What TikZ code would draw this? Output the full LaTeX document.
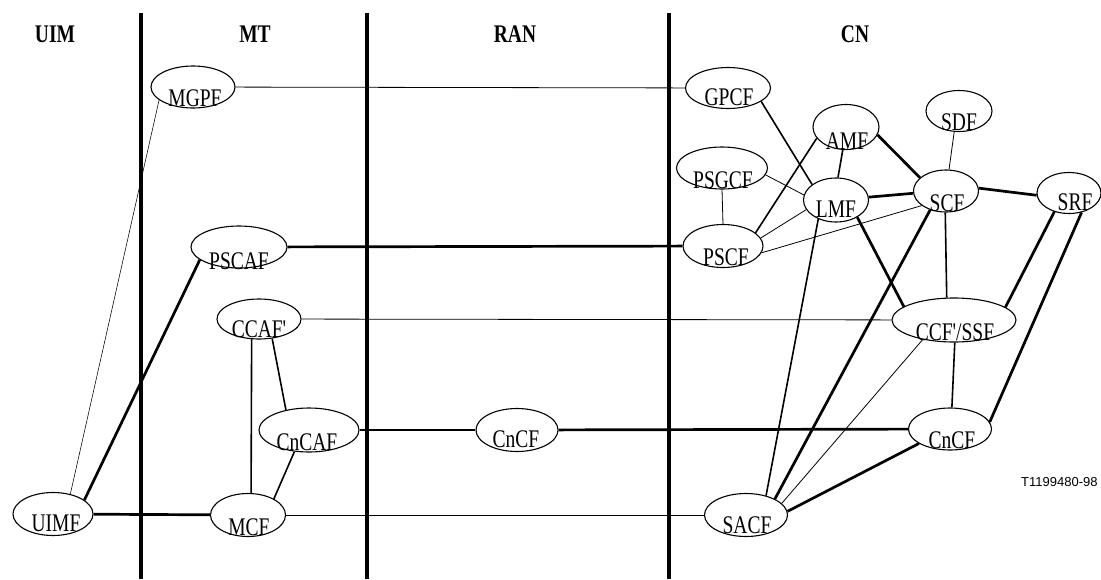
\documentclass[tikz,border=0pt]{standalone}
\usepackage{fontspec}
\setmainfont{Liberation Serif}
% plain family without TeX ligatures, so ' stays a straight apostrophe
\newfontfamily\labelfont{Liberation Serif}
\newfontfamily\refsans{Liberation Sans}
\usetikzlibrary{shapes.geometric}

\newcommand{\fnlabel}[1]{\scalebox{1}[1.3]{\labelfont\fontsize{19.5}{20}\selectfont #1}}
\newcommand{\domlabel}[1]{\scalebox{1}[1.3]{\labelfont\fontsize{19.5}{20}\selectfont\bfseries #1}}

\tikzset{
  fn/.style={ellipse, draw, line width=1.1pt, inner sep=0pt},
  fntext/.style={inner sep=0pt, anchor=center},
  divider/.style={line width=4pt},
  thinlink/.style={line width=0.8pt},
  medlink/.style={line width=1.6pt},
  thicklink/.style={line width=2.7pt},
  hairlink/.style={line width=0.55pt},
}

% place a function ellipse with its name set low inside it
\newcommand{\fnode}[7]{%
  \node[fn, minimum width=#3pt, minimum height=#4pt] (#1) at (#2) {};
  \node[fntext] (#1-t) at ([xshift=#5pt, yshift=-#6pt]#1.center) {\fnlabel{#7}};
}

\begin{document}
\begin{tikzpicture}[x=1pt, y=-1pt]
  \useasboundingbox (0,0) rectangle (1101,579);
  \clip (0,0) rectangle (1101,579);

  % domain boundaries
  \coordinate (d1t) at (141,13);  \coordinate (d1b) at (141,579);
  \coordinate (d2t) at (367,13);  \coordinate (d2b) at (367,579);
  \coordinate (d3t) at (669,13);  \coordinate (d3b) at (669,579);
  \draw[divider] (d1t) -- (d1b);
  \draw[divider] (d2t) -- (d2b);
  \draw[divider] (d3t) -- (d3b);

  % domain headings
  \node[fntext] (h-uim) at (55,34) {\domlabel{UIM}};
  \node[fntext] (h-mt)  at (255,34) {\domlabel{MT}};
  \node[fntext] (h-ran) at (515,34) {\domlabel{RAN}};
  \node[fntext] (h-cn)  at (855,34) {\domlabel{CN}};

  % functional entities
  \fnode{mgpf}{193,87}{84}{42}{2}{11}{MGPF}
  \fnode{pscaf}{239,247}{96}{42}{0}{14}{PSCAF}
  \fnode{ccafp}{259,319}{84}{40}{0}{10}{CCAF'}
  \fnode{cncaf}{309,430}{100}{44}{-2}{12}{CnCAF}
  \fnode{uimf}{53,514}{80}{43}{3}{9}{UIMF}
  \fnode{mcf}{248,515}{75}{43}{1}{12}{MCF}
  \fnode{cncfran}{517,430}{82}{43}{-1}{9}{CnCF}
  \fnode{gpcf}{728,88}{85}{41}{1}{9}{GPCF}
  \fnode{amf}{846,127}{66}{45}{1}{14}{AMF}
  \fnode{sdf}{959,111}{66}{41}{0}{11}{SDF}
  \fnode{psgcf}{722,168}{91}{42}{1}{12}{PSGCF}
  \fnode{lmf}{836,200}{65}{44}{0}{9}{LMF}
  \fnode{scf}{946,191}{65}{42}{1}{12}{SCF}
  \fnode{srf}{1069,193}{64}{41}{6}{9}{SRF}
  \fnode{pscf}{723,246}{80}{43}{3}{11}{PSCF}
  \fnode{ccfssf}{954,320}{124}{44}{1}{12}{CCF'/SSF}
  \fnode{cncf}{950,429}{83}{42}{2}{11}{CnCF}
  \fnode{sacf}{746,515}{83}{43}{1}{10}{SACF}

  % drawing number
  \node[inner sep=0pt, anchor=base west] (fig-id) at (1021,486)
    {\refsans\fontsize{13}{15}\selectfont T1199480-98};

  % links spanning the domains
  \draw[thinlink] (mgpf) -- (gpcf);
  \draw[hairlink] (mgpf.201) -- (uimf.49);
  \draw[thicklink] (pscaf) -- (pscf);
  \draw[thicklink] (pscaf.198) -- (uimf.24);
  \draw[thinlink] (ccafp) -- (ccfssf);
  \draw[medlink] (ccafp.250) -- (mcf.82);
  \draw[medlink] (ccafp.304) -- (cncaf.139);
  \draw[medlink] (cncaf.236) -- (mcf.32);
  \draw[thicklink] (cncaf) -- (cncfran);
  \draw[thicklink] (cncfran) -- (cncf);
  \draw[thicklink] (uimf) -- (mcf);
  \draw[thinlink] (mcf) -- (sacf);

  % links inside the core network
  \draw[medlink] (gpcf.338) -- (lmf.147);
  \draw[thinlink] (psgcf.270) -- (pscf.90);
  \draw[thinlink] (psgcf.351) -- (lmf.171);
  \draw[medlink] (amf.201) -- (pscf.22);
  \draw[medlink] (amf.262) -- (lmf.85);
  \draw[thicklink] (amf.346) -- (scf.153);
  \draw[thinlink] (sdf.257) -- (scf.82);
  \draw[thicklink] (lmf.5) -- (scf.184);
  \draw[thinlink] (lmf.198) -- (pscf.12);
  \draw[thinlink] (scf.211) -- (pscf.350);
  \draw[thicklink] (scf.5) -- (srf.184);
  \draw[thicklink] (lmf.321) -- (ccfssf.165);
  \draw[medlink] (lmf.227) -- (sacf.44);
  \draw[thicklink] (scf.230) -- (sacf.29);
  \draw[medlink] (scf.268) -- (ccfssf.108);
  \draw[thicklink] (srf.232) -- (ccfssf.14);
  \draw[thicklink] (srf.303) -- (cncf.10);
  \draw[medlink] (ccfssf.272) -- (cncf.85);
  \draw[thinlink] (ccfssf.212) -- (sacf.18);
  \draw[thicklink] (cncf.205) -- (sacf.5);
\end{tikzpicture}
\end{document}
